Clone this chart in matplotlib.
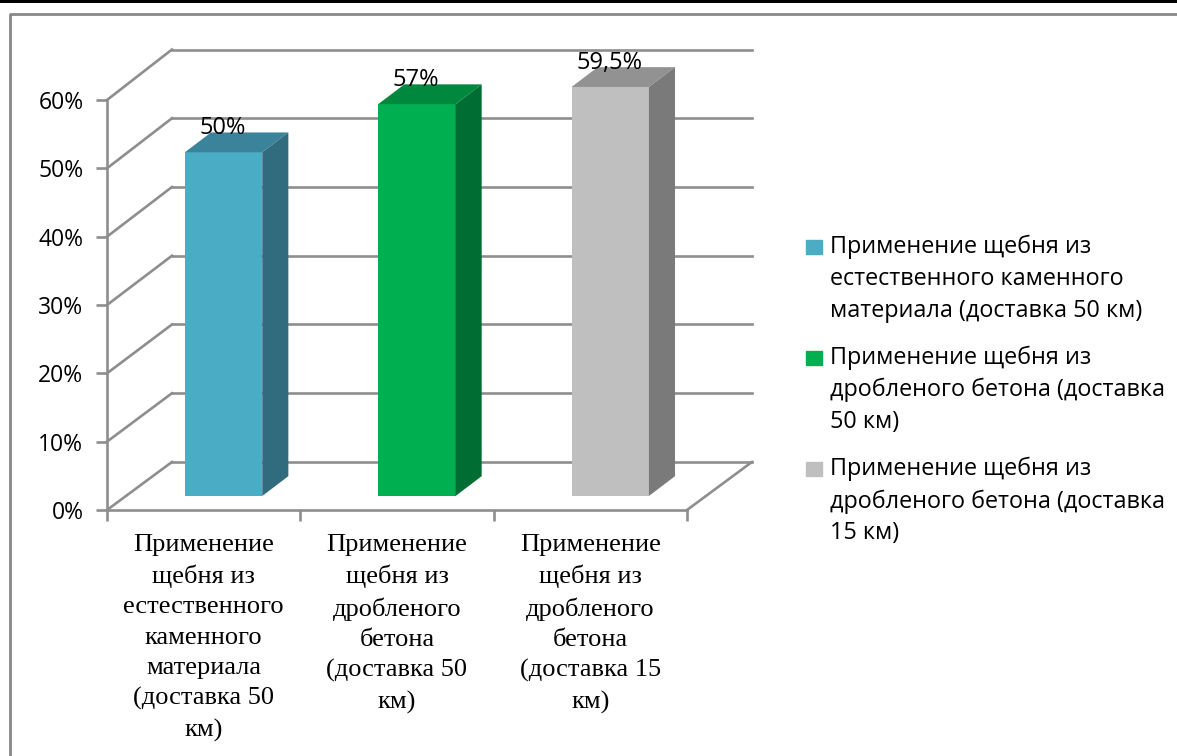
import numpy as np
import matplotlib
matplotlib.use("Agg")
import matplotlib.pyplot as plt
from matplotlib.lines import Line2D
from matplotlib.patches import Polygon, Rectangle
from matplotlib.legend_handler import HandlerPatch

# data
categories = [
    "Применение\nщебня из\nестественного\nкаменного\nматериала\n(доставка 50\nкм)",
    "Применение\nщебня из\nдробленого\nбетона\n(доставка 50\nкм)",
    "Применение\nщебня из\nдробленого\nбетона\n(доставка 15\nкм)",
]
legend_labels = [
    "Применение щебня из\nестественного каменного\nматериала (доставка 50 км)",
    "Применение щебня из\nдробленого бетона (доставка\n50 км)",
    "Применение щебня из\nдробленого бетона (доставка\n15 км)",
]
values = [50, 57, 59.5]
value_labels = ["50%", "57%", "59,5%"]
yticks = [0, 10, 20, 30, 40, 50, 60]

front_colors = ["#4BACC6", "#00B050", "#BFBFBF"]
top_colors = ["#3A839B", "#00883E", "#929292"]
side_colors = ["#316C7E", "#006E33", "#7A7A7A"]
grid_color = "#8E8E8E"

# fake 3d geometry, in data units
depth_x = 0.336
depth_y = 7.03
bar_depth_x = 0.135
bar_depth_y = 2.9
bar_width = 0.40
bar_shift = 0.603
bar_base = 2.05
depth_scale = 1.006  # back plane and bars are a bit taller than the front axis

W, H = 1177, 756
fig = plt.figure(figsize=(W / 100, H / 100), dpi=100, facecolor="white")
ax = fig.add_axes([107 / W, (H - 510) / H, 580 / W, 410 / H])
ax.set_xlim(0, 3)
ax.set_ylim(0, 60)
ax.patch.set_visible(False)

# walls and floor
for y in yticks:
    back = y * depth_scale + depth_y
    ax.plot([0, depth_x], [y, back], color=grid_color, lw=1.9, clip_on=False, zorder=1)
    ax.plot([depth_x, 3 + depth_x], [back, back], color=grid_color, lw=1.9,
            clip_on=False, zorder=1)
ax.plot([3, 3 + depth_x], [0, depth_y], color=grid_color, lw=1.9, clip_on=False, zorder=1)

# bars
for i, v in enumerate(values):
    left = i + bar_shift - bar_width / 2
    right = left + bar_width
    top = bar_base + v * depth_scale
    ax.bar(left, v * depth_scale, width=bar_width, bottom=bar_base, align="edge",
           color=front_colors[i], clip_on=False, zorder=3)
    ax.add_patch(Polygon([(left, top), (right, top), (right + bar_depth_x, top + bar_depth_y),
                          (left + bar_depth_x, top + bar_depth_y)],
                         color=top_colors[i], lw=0, clip_on=False, zorder=3))
    ax.add_patch(Polygon([(right, bar_base), (right + bar_depth_x, bar_base + bar_depth_y),
                          (right + bar_depth_x, top + bar_depth_y), (right, top)],
                         color=side_colors[i], lw=0, clip_on=False, zorder=3))
    ax.text(i + bar_shift - 0.005, top + 3.5, value_labels[i], ha="center", va="center",
            fontsize=17, family="Open Sans", color="black", zorder=5)

# axes
for s in ["top", "right"]:
    ax.spines[s].set_visible(False)
for s in ["left", "bottom"]:
    ax.spines[s].set_color(grid_color)
    ax.spines[s].set_linewidth(1.9)
ax.set_yticks(yticks)
ax.set_yticklabels(["%d%%" % y for y in yticks], fontsize=16.5, family="Open Sans")
ax.tick_params(axis="y", length=8, width=1.9, color=grid_color, pad=9)
ax.set_xticks([0, 1, 2, 3])
ax.set_xticklabels([])
ax.tick_params(axis="x", which="major", length=8, width=1.9, color=grid_color)
ax.set_xticks([0.5, 1.5, 2.5], minor=True)
ax.set_xticklabels(categories, minor=True, fontsize=19, family="Liberation Serif",
                   linespacing=1.485)
ax.tick_params(axis="x", which="minor", length=0, pad=17)


# legend square sits on the first text line
def first_line_square(legend, orig_handle, xdescent, ydescent, width, height, fontsize):
    return Rectangle((0, 24.6), 11.5, 10)


handles = [Rectangle((0, 0), 1, 1, color=c) for c in front_colors]
fig.legend(handles, legend_labels, loc="upper left", bbox_to_anchor=(806 / W, (H - 235) / H),
           frameon=False, prop={"family": "Open Sans", "size": 16.8}, labelspacing=0.98,
           handlelength=0.74, handletextpad=0.3, borderpad=0, borderaxespad=0,
           handler_map={Rectangle: HandlerPatch(patch_func=first_line_square)})
for t in fig.legends[0].get_texts():
    t.set_linespacing(1.43)

# picture frame
fig.add_artist(Rectangle((0, 1 - 3 / H), 1, 3 / H, color="black", lw=0))
fig.add_artist(Line2D([9.5 / W, 9.5 / W, 1], [0, (H - 14) / H, (H - 14) / H], color="#888888", lw=2))

plt.savefig("out.png", dpi=100)
